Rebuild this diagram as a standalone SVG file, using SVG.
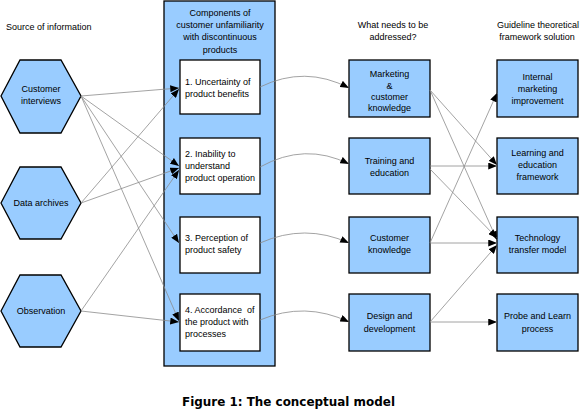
<svg xmlns="http://www.w3.org/2000/svg" width="580" height="411" viewBox="0 0 580 411">
<style>
text{font-family:"Liberation Sans",Arial,sans-serif;font-size:9px;fill:#000}
.c{text-anchor:middle}
.blue{fill:#99ccff;stroke:#000;stroke-width:1.3}
.white{fill:#fff;stroke:#000;stroke-width:1.3}
.ln{fill:none;stroke:#8c8c8c;stroke-width:0.8;marker-end:url(#ah)}
.cap{font-family:"DejaVu Sans",Verdana,sans-serif;font-weight:bold;font-size:11.5px}
</style>
<defs>
<marker id="ah" viewBox="0 0 10 8" refX="10" refY="4" markerWidth="9" markerHeight="7" markerUnits="userSpaceOnUse" orient="auto">
<path d="M0,0 L10,4 L0,8 z" fill="#000"/>
</marker>
</defs>
<rect x="0" y="0" width="580" height="411" fill="#fff"/>

<text x="6" y="30">Source of information</text>
<text class="c" x="393" y="28">What needs to be</text>
<text class="c" x="393" y="40">addressed?</text>
<text class="c" x="538" y="28">Guideline theoretical</text>
<text class="c" x="537" y="40">framework solution</text>

<g id="components">
<rect class="blue" x="164" y="1" width="111" height="365"/>
<text class="c" x="220" y="16">Components of</text>
<text class="c" x="220" y="28">customer unfamiliarity</text>
<text class="c" x="220" y="40">with discontinuous</text>
<text class="c" x="220" y="53">products</text>
</g>

<g id="customer-interviews">
<polygon class="blue" points="1,96 20,60 61,60 81,96 61,133 20,133"/>
<text class="c" x="41" y="92">Customer</text>
<text class="c" x="41" y="104">interviews</text>
</g>
<g id="data-archives">
<polygon class="blue" points="1,203 20,167 61,167 81,203 61,239 20,239"/>
<text class="c" x="41" y="206">Data archives</text>
</g>
<g id="observation">
<polygon class="blue" points="1,311 20,275 61,275 81,311 61,347 20,347"/>
<text class="c" x="41" y="314">Observation</text>
</g>

<g id="uncertainty">
<rect class="white" x="180" y="60" width="80" height="54"/>
<text x="185" y="85">1. Uncertainty of</text>
<text x="185" y="97">product benefits</text>
</g>
<g id="inability">
<rect class="white" x="180" y="138" width="80" height="56"/>
<text x="185" y="157">2. Inability to</text>
<text x="185" y="169">understand</text>
<text x="185" y="181">product operation</text>
</g>
<g id="perception">
<rect class="white" x="180" y="217" width="80" height="56"/>
<text x="185" y="241">3. Perception of</text>
<text x="185" y="253">product safety</text>
</g>
<g id="accordance">
<rect class="white" x="180" y="294" width="80" height="57"/>
<text x="185" y="313" xml:space="preserve">4. Accordance  of</text>
<text x="185" y="325">the product with</text>
<text x="185" y="337">processes</text>
</g>

<g id="marketing-customer">
<rect class="blue" x="349" y="60" width="81" height="57"/>
<text class="c" x="389.5" y="77">Marketing</text>
<text class="c" x="389.5" y="88.5">&amp;</text>
<text class="c" x="389.5" y="100">customer</text>
<text class="c" x="389.5" y="111">knowledge</text>
</g>
<g id="training">
<rect class="blue" x="349" y="138" width="81" height="56"/>
<text class="c" x="389.5" y="164">Training and</text>
<text class="c" x="389.5" y="176">education</text>
</g>
<g id="customer-knowledge">
<rect class="blue" x="349" y="217" width="81" height="56"/>
<text class="c" x="389.5" y="241">Customer</text>
<text class="c" x="389.5" y="253">knowledge</text>
</g>
<g id="design">
<rect class="blue" x="349" y="294" width="81" height="57"/>
<text class="c" x="389.5" y="319">Design and</text>
<text class="c" x="389.5" y="332">development</text>
</g>

<g id="internal-marketing">
<rect class="blue" x="497" y="60" width="81" height="57"/>
<text class="c" x="537.5" y="80">Internal</text>
<text class="c" x="537.5" y="92">marketing</text>
<text class="c" x="537.5" y="104">improvement</text>
</g>
<g id="learning">
<rect class="blue" x="497" y="138" width="81" height="56"/>
<text class="c" x="537.5" y="156">Learning and</text>
<text class="c" x="537.5" y="168">education</text>
<text class="c" x="537.5" y="180">framework</text>
</g>
<g id="technology">
<rect class="blue" x="497" y="217" width="81" height="56"/>
<text class="c" x="537.5" y="241">Technology</text>
<text class="c" x="537.5" y="253">transfer model</text>
</g>
<g id="probe">
<rect class="blue" x="497" y="294" width="81" height="57"/>
<text class="c" x="537.5" y="319">Probe and Learn</text>
<text class="c" x="537.5" y="332">process</text>
</g>

<g id="connectors">
<line class="ln" x1="81" y1="96" x2="179" y2="88"/>
<line class="ln" x1="81" y1="96" x2="179" y2="166"/>
<line class="ln" x1="81" y1="96" x2="179" y2="243"/>
<line class="ln" x1="81" y1="96" x2="179" y2="321"/>
<line class="ln" x1="81" y1="203" x2="179" y2="89"/>
<line class="ln" x1="81" y1="203" x2="179" y2="168"/>
<line class="ln" x1="81" y1="311" x2="179" y2="170"/>
<line class="ln" x1="81" y1="311" x2="179" y2="322"/>

<path class="ln" d="M260,87 Q305,65 349,88"/>
<path class="ln" d="M260,167 Q305,142 349,164"/>
<path class="ln" d="M260,243 Q305,223 349,243"/>
<path class="ln" d="M260,320 Q305,301 349,322"/>

<line class="ln" x1="430" y1="90" x2="497" y2="165"/>
<line class="ln" x1="430" y1="90" x2="497" y2="240"/>
<line class="ln" x1="430" y1="166" x2="497" y2="166"/>
<line class="ln" x1="430" y1="169" x2="497" y2="238"/>
<line class="ln" x1="430" y1="243" x2="497" y2="93"/>
<line class="ln" x1="430" y1="243" x2="497" y2="243"/>
<line class="ln" x1="430" y1="322" x2="497" y2="245"/>
<line class="ln" x1="430" y1="322" x2="497" y2="322"/>
</g>

<text class="cap" x="182" y="406" textLength="213" lengthAdjust="spacingAndGlyphs">Figure 1: The conceptual model</text>
</svg>
